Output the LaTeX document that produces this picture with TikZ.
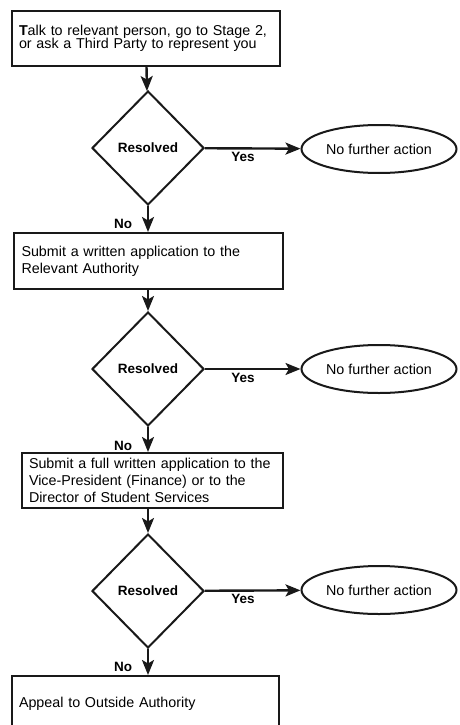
\documentclass[tikz,border=0pt]{standalone}
\usepackage{fontspec}
\setmainfont{Liberation Sans}
\usetikzlibrary{shapes.geometric,arrows.meta}
\begin{document}
\begin{tikzpicture}[x=1pt,y=-1pt]
    \useasboundingbox (0,0) rectangle (460,725);

    \tikzstyle{stage}=[draw=black!90,line width=2pt,inner sep=0pt,align=left,font=\fontsize{14.3}{17}\selectfont]
    \tikzstyle{check}=[draw=black!90,line width=2pt,diamond,inner sep=0pt,minimum width=112pt,minimum height=114pt,font=\bfseries\fontsize{13.5}{16}\selectfont]
    \tikzstyle{stop}=[draw=black!90,line width=2pt,ellipse,inner sep=0pt,minimum width=155pt,minimum height=48pt,font=\fontsize{14.3}{17}\selectfont]
    \tikzstyle{answer}=[font=\bfseries\fontsize{13.5}{16}\selectfont]

    \node[stage,minimum width=268pt,minimum height=55pt,text width=254pt] (talk) at (146,38.5)
        {\textbf{T}alk to relevant person, go to Stage 2,\\[-4pt]or ask a Third Party to represent you};
    \node[check] (res1) at (148,148) {Resolved};
    \node[stop]  (done1) at (379,149) {No further action\hspace{8pt}};
    \node[stage,minimum width=269pt,minimum height=56pt,text width=254pt] (submit) at (148.5,261)
        {Submit a written application to the\\Relevant Authority};
    \node[check] (res2) at (148,369) {Resolved};
    \node[stop]  (done2) at (379,369) {No further action\hspace{8pt}};
    \node[stage,minimum width=261pt,minimum height=55pt,text width=247pt] (full) at (152.5,480.5)
        {Submit a full written application to the\\Vice-President (Finance) or to the\\Director of Student Services};
    \node[check] (res3) at (148,591) {Resolved};
    \node[stop]  (done3) at (379,590) {No further action\hspace{8pt}};
    \node[stage,minimum width=267pt,minimum height=56pt,text width=253pt] (appeal) at (145.5,704)
        {Appeal to Outside Authority};

    \node[answer] (yes1) at (243,157) {Yes};
    \node[answer] (no1)  at (123,224) {No};
    \node[answer] (yes2) at (243,378) {Yes};
    \node[answer] (no2)  at (123,446) {No};
    \node[answer] (yes3) at (243,599) {Yes};
    \node[answer] (no3)  at (123,667) {No};

    \tikzstyle{fwd} = [draw=black!90, line width=2.4pt, -{Stealth[length=15pt,width=12pt,inset=3.5pt]}]

          \draw [fwd] (talk) -- (res1);
          \draw [fwd] (res1) -- (done1);
          \draw [fwd] (res1) -- (res1 |- submit.north);
          \draw [fwd] (submit.south -| res2) -- (res2);
          \draw [fwd] (res2) -- (done2);
          \draw [fwd] (res2) -- (res2 |- full.north);
          \draw [fwd] (full.south -| res3) -- (res3);
          \draw [fwd] (res3) -- (done3);
          \draw [fwd] (res3) -- (res3 |- appeal.north);

  \end{tikzpicture}
\end{document}
